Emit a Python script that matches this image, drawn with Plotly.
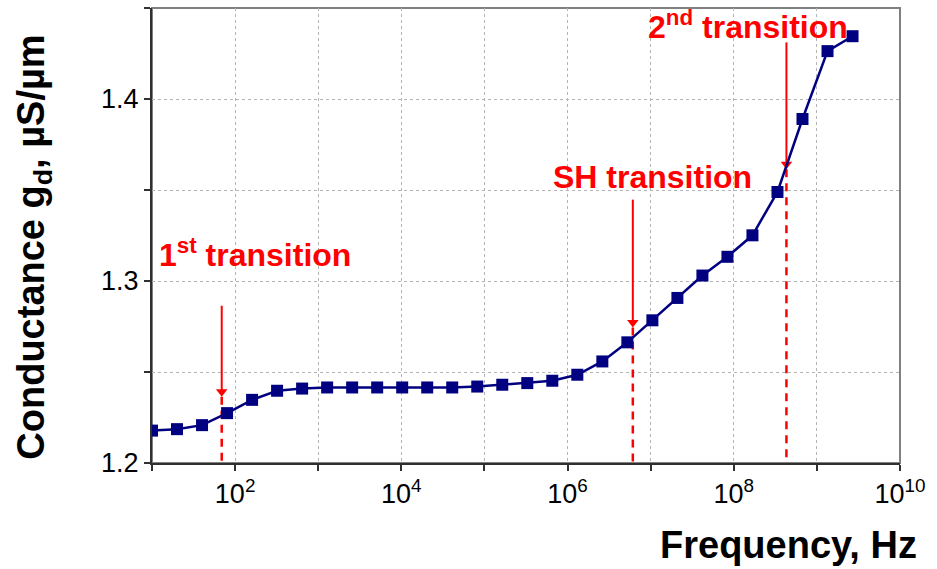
import plotly.graph_objects as go

# ---- data ----
freq_hz = [10, 20, 40, 80, 160, 320, 640, 1280, 2560, 5120, 10240, 20480,
           40960, 81920, 163840, 327680, 655360, 1310720, 2621440, 5242880,
           10485760, 20971520, 41943040, 83886080, 167772160, 335544320,
           671088640, 1342177280, 2684354560]
conductance = [1.2178, 1.2186, 1.2208, 1.2274, 1.2347, 1.2397, 1.2409, 1.2415,
               1.2415, 1.2415, 1.2415, 1.2415, 1.2415, 1.2420, 1.2430, 1.2439,
               1.2452, 1.2485, 1.2558, 1.2663, 1.2784, 1.2907, 1.3030, 1.3133,
               1.3251, 1.3489, 1.3890, 1.4263, 1.4345]

transition_labels = ["1<sup>st</sup> transition", "SH transition", "2<sup>nd</sup> transition"]
transition_freq = [69, 6.1e6, 4.3e8]
arrow_tail = [1.2864, 1.3447, 1.4311]
arrow_tip = [1.2364, 1.2744, 1.3614]
arrowhead_center = [1.2392, 1.2772, 1.3642]

x_major_vals = [1e2, 1e4, 1e6, 1e8, 1e10]
x_major_text = ["10<sup>2</sup>", "10<sup>4</sup>", "10<sup>6</sup>", "10<sup>8</sup>", "10<sup>10</sup>"]
x_minor_vals = [1e1, 1e3, 1e5, 1e7, 1e9]
y_major_vals = [1.2, 1.3, 1.4]
y_major_text = ["1.2", "1.3", "1.4"]
y_minor_vals = [1.25, 1.35, 1.45]

FONT = "Liberation Sans, Arial, sans-serif"
RED = "#FF0000"
NAVY = "#000080"
GRID = "#b4b4b4"
AXIS = "#303030"

fig = go.Figure()

for f, tail, tip, head in zip(transition_freq, arrow_tail, arrow_tip, arrowhead_center):
    # dashed red vertical from arrow tip down to the axis
    fig.add_trace(go.Scatter(
        x=[f, f], y=[tip, 1.2], mode="lines",
        line=dict(color=RED, width=2.5, dash="8px,6px"),
        hoverinfo="skip", showlegend=False))
    # solid arrow shaft
    fig.add_trace(go.Scatter(
        x=[f, f], y=[tail, head], mode="lines",
        line=dict(color=RED, width=2),
        hoverinfo="skip", showlegend=False))
    # arrow head
    fig.add_trace(go.Scatter(
        x=[f], y=[head], mode="markers",
        marker=dict(symbol="triangle-down", size=10, color=RED),
        hoverinfo="skip", showlegend=False))

fig.add_trace(go.Scatter(
    x=freq_hz, y=conductance, mode="lines+markers",
    line=dict(color=NAVY, width=2.5),
    marker=dict(symbol="square", size=12, color=NAVY),
    showlegend=False))

text_pos = [(0.0067, 0.4615), (0.533, 0.6286), (0.661, 0.9626)]
annotations = []
for lab, (tx, ty) in zip(transition_labels, text_pos):
    annotations.append(dict(
        x=tx, y=ty, xref="paper", yref="paper", xanchor="left", yanchor="middle",
        showarrow=False, text=lab,
        font=dict(family=FONT, size=32, color=RED, weight="bold")))

annotations.append(dict(
    x=1.025, y=-0.18, xref="paper", yref="paper", xanchor="right", yanchor="middle",
    showarrow=False, text="Frequency, Hz",
    font=dict(family=FONT, size=38, color="black", weight="bold")))
annotations.append(dict(
    x=-0.158, y=0.475, xref="paper", yref="paper", xanchor="center", yanchor="middle",
    showarrow=False, textangle=-90, text="Conductance g<sub>d</sub>, µS/µm",
    font=dict(family=FONT, size=38, color="black", weight="bold")))

common = dict(showgrid=True, gridcolor=GRID, griddash="dot", gridwidth=1,
              showline=True, linecolor=AXIS, linewidth=2,
              ticks="outside", ticklen=6, tickcolor=AXIS, tickwidth=1.5,
              tickfont=dict(family=FONT, size=27, color="black"),
              zeroline=False)

fig.update_layout(
    width=937, height=569,
    margin=dict(l=152, r=37, t=8, b=106),
    paper_bgcolor="white", plot_bgcolor="white",
    font=dict(family=FONT, color="black"),
    annotations=annotations,
    shapes=[dict(type="rect", xref="paper", yref="paper", x0=0, y0=0, x1=1, y1=1,
                 line=dict(color="#808080", width=2), layer="below")],
    xaxis=dict(type="log", range=[1, 10], tickvals=x_major_vals, ticktext=x_major_text,
               minor=dict(tickvals=x_minor_vals, ticks="outside", ticklen=6,
                          tickcolor=AXIS, tickwidth=1.5, showgrid=True,
                          gridcolor=GRID, griddash="dot", gridwidth=1),
               **common),
    yaxis=dict(range=[1.2, 1.45], tickvals=y_major_vals, ticktext=y_major_text,
               minor=dict(tickvals=y_minor_vals, ticks="outside", ticklen=6,
                          tickcolor=AXIS, tickwidth=1.5, showgrid=True,
                          gridcolor=GRID, griddash="dot", gridwidth=1),
               **common),
)

fig.write_html("out.html")
